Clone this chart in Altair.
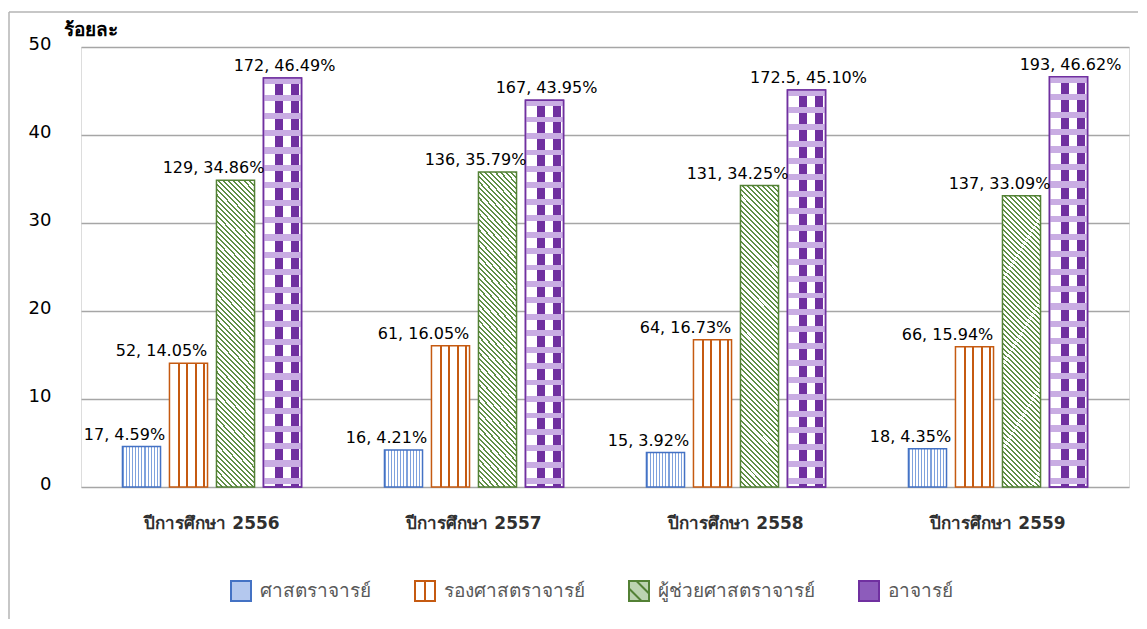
import math
import altair as alt
import pandas as pd

# ---------------- data ----------------
years = ["ปีการศึกษา 2556", "ปีการศึกษา 2557", "ปีการศึกษา 2558", "ปีการศึกษา 2559"]
series = ["ศาสตราจารย์", "รองศาสตราจารย์", "ผู้ช่วยศาสตราจารย์", "อาจารย์"]

prof_counts = [17, 16, 15, 18]
assoc_counts = [52, 61, 64, 66]
asst_counts = [129, 136, 131, 137]
lect_counts = [172, 167, 172.5, 193]

prof_pct = [4.59, 4.21, 3.92, 4.35]
assoc_pct = [14.05, 16.05, 16.73, 15.94]
asst_pct = [34.86, 35.79, 34.25, 33.09]
lect_pct = [46.49, 43.95, 45.10, 46.62]

y_ticks = [0, 10, 20, 30, 40, 50]

counts_by_series = [prof_counts, assoc_counts, asst_counts, lect_counts]
pct_by_series = [prof_pct, assoc_pct, asst_pct, lect_pct]

rows = []
for s, cs, ps in zip(series, counts_by_series, pct_by_series):
    for yr, c, p in zip(years, cs, ps):
        rows.append({"year": yr, "series": s, "count": c, "pct": p,
                     "label": f"{c:g}, {p:.2f}%"})
df = pd.DataFrame(rows)

# ---------------- style ----------------
FONT = "DejaVu Sans"
stroke_cols = ["#4472c4", "#c55a11", "#538135", "#7030a0"]
legend_fill = ["#b4c8ee", "#ffffff", "#bcd3b0", "#8d5cbb"]
legend_shapes = [
    "M-1,-1H1V1H-1Z",
    "M-1,-1H1V1H-1Z M0,-1V1",
    "M-1,-1H1V1H-1Z M-1,-0.25L0.25,1 M-0.25,-1L1,0.25",
    "M-1,-1H1V1H-1Z",
]
label_dx = [-17, -27, -22, 2]

PLOT_W, PLOT_H = 1048, 440


def seg_gradient(segments, base, x1, y1, x2, y2):
    stops = []
    pos = 0.0
    for a, b, col in segments:
        a = max(0.0, min(1.0, a))
        b = max(0.0, min(1.0, b))
        if b <= a:
            continue
        stops += [(pos, base), (a, base), (a, col), (b, col)]
        pos = b
    stops += [(pos, base), (1.0, base)]
    return alt.LinearGradient(
        gradient="linear",
        stops=[alt.GradientStop(offset=round(o, 5), color=c) for o, c in stops],
        x1=x1, y1=y1, x2=x2, y2=y2,
    )


BW = 38.0
# blue: fine dotted texture (thin vertical light-blue lines)
blue_grad = seg_gradient([((3 * k + 1) / BW, (3 * k + 2) / BW, "#7fa2dd") for k in range(13)],
                         "#ffffff", 0, 0, 1, 0)
# orange: wide vertical stripes
orange_grad = seg_gradient([(p / BW, (p + 2) / BW, "#c55a11") for p in (9, 17, 25, 33)],
                           "#ffffff", 0, 0, 1, 0)
# green: diagonal "\" hatch
GH = 300.0
r = GH / BW
sv = (1 + r) / (1 + r * r)
L = (BW + GH) / math.sqrt(2)
period = 3.6 / L
lw = 1.4 / L
green_grad = seg_gradient([(k * period, k * period + lw, "#5f8f45") for k in range(int(1 / period) + 1)],
                          "#ffffff", 0, 1, sv, 1 - sv * r)
# purple: checker = vertical purple columns + light horizontal bands
purple_cols = seg_gradient([(11.7 / 39, 20 / 39, "#7030a0"), (28.3 / 39, 36.7 / 39, "#7030a0")],
                           "#ffffff", 0, 0, 1, 0)
PH = 400.0
purple_bands = seg_gradient([(k * 17 / PH, (k * 17 + 6) / PH, "#c9ade3") for k in range(24)],
                            "rgba(255,255,255,0)", 0, 0, 0, 1)

x_enc = alt.X("year:N", sort=years,
              scale=alt.Scale(paddingInner=0, paddingOuter=0),
              axis=alt.Axis(title=None, labelAngle=0, ticks=False, domain=False,
                            labelFontSize=17, labelFont=FONT, labelColor="#303030",
                            labelFontWeight="bold", labelPadding=36,
                            labelBaseline="middle", labelLimit=400))
xo_enc = alt.XOffset("series:N", sort=series,
                     scale=alt.Scale(domain=series, paddingInner=0.19, paddingOuter=0.882))
y_enc = alt.Y("pct:Q",
              scale=alt.Scale(domain=[0, 50], nice=False),
              axis=alt.Axis(values=y_ticks, grid=True, gridColor="#a6a6a6", gridWidth=1.5,
                            ticks=False, domain=False, labelFontSize=18, labelFont=FONT,
                            labelColor="#000000", labelPadding=30, labelOffset=-3,
                            title="ร้อยละ", titleAngle=0, titleAlign="left",
                            titleBaseline="middle", titleX=-18, titleY=-18,
                            titleFontSize=19, titleFont=FONT, titleFontWeight="bold",
                            titleColor="#000000"))

base = alt.Chart(df)

layers = []
fills = [blue_grad, orange_grad, green_grad, purple_cols]
for s, g, sc in zip(series, fills, stroke_cols):
    layers.append(
        base.transform_filter(alt.datum.series == s)
        .mark_bar(fill=g, stroke=sc, strokeWidth=1.5)
        .encode(x=x_enc, xOffset=xo_enc, y=y_enc)
    )
layers.append(
    base.transform_filter(alt.datum.series == series[3])
    .mark_bar(fill=purple_bands, stroke=stroke_cols[3], strokeWidth=1.5)
    .encode(x=x_enc, xOffset=xo_enc, y=y_enc)
)
for s, dx in zip(series, label_dx):
    layers.append(
        base.transform_filter(alt.datum.series == s)
        .mark_text(dx=dx, dy=-7, baseline="alphabetic", fontSize=16, font=FONT, color="#000000")
        .encode(x=x_enc, xOffset=xo_enc, y=y_enc, text="label:N")
    )

# legend (driven by scales, drawn by an empty point layer)
leg = alt.Legend(title=None, orient="none", legendX=149, legendY=533, direction="horizontal",
                 labelFontSize=19, labelFont=FONT, labelColor="#595959", symbolSize=400,
                 symbolStrokeWidth=2, symbolOpacity=1, columnPadding=40, labelOffset=8,
                 labelLimit=400)
legend_layer = base.transform_filter("false").mark_point(filled=True, strokeWidth=2, opacity=1).encode(
    fill=alt.Fill("series:N", scale=alt.Scale(domain=series, range=legend_fill), legend=leg),
    stroke=alt.Stroke("series:N", scale=alt.Scale(domain=series, range=stroke_cols), legend=leg),
    shape=alt.Shape("series:N", scale=alt.Scale(domain=series, range=legend_shapes), legend=leg),
)
layers.append(legend_layer)

# outer chart frame (top and left edges visible in the reference)
frame_src = alt.Chart(alt.Data(values=[{"k": 1}]))
frame_top = frame_src.mark_rule(color="#b4b4b4", strokeWidth=1.5).encode(
    x=alt.value(-72), x2=alt.value(1057), y=alt.value(-35))
frame_left = frame_src.mark_rule(color="#b4b4b4", strokeWidth=1.5).encode(
    x=alt.value(-72), y=alt.value(-35), y2=alt.value(572))

chart = alt.layer(frame_top, frame_left, *layers).properties(
    width=PLOT_W, height=PLOT_H,
    padding={"left": 0, "top": 3, "right": 0, "bottom": 0},
).configure_view(
    stroke="#a6a6a6", strokeWidth=1.5
).configure(
    background="#ffffff"
)

chart.save("out.html", embed_options={"renderer": "svg", "actions": False})
